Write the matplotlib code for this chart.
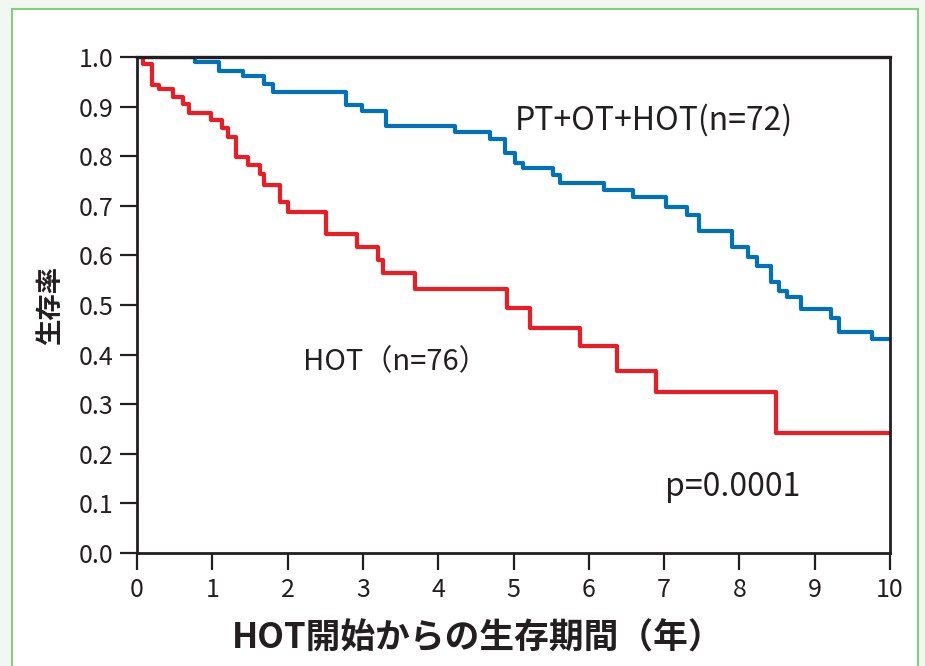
import matplotlib
matplotlib.use("Agg")
import matplotlib.pyplot as plt
from matplotlib.patches import Rectangle

plt.rcParams["font.family"] = ["Noto Sans CJK JP", "DejaVu Sans"]

# Kaplan-Meier step points (years, survival after the drop)
hot_t = [0, 0.08, 0.20, 0.29, 0.48, 0.61, 0.69, 0.98, 1.13, 1.21, 1.31, 1.48,
         1.63, 1.68, 1.90, 2.01, 2.51, 2.92, 3.20, 3.27, 3.69, 4.91, 5.22,
         5.88, 6.37, 6.89, 8.49, 10.0]
hot_s = [1.0, 0.986, 0.944, 0.935, 0.919, 0.905, 0.887, 0.873, 0.857, 0.839,
         0.798, 0.782, 0.764, 0.742, 0.708, 0.688, 0.643, 0.617, 0.591, 0.565,
         0.532, 0.494, 0.454, 0.417, 0.367, 0.325, 0.242, 0.242]

combo_t = [0, 0.77, 1.09, 1.41, 1.69, 1.81, 2.78, 2.99, 3.31, 4.22, 4.69, 4.89,
           5.02, 5.12, 5.52, 5.62, 6.20, 6.59, 7.03, 7.30, 7.46, 7.90, 8.11,
           8.23, 8.42, 8.53, 8.63, 8.82, 9.22, 9.32, 9.76, 10.0]
combo_s = [1.0, 0.99, 0.972, 0.962, 0.945, 0.929, 0.903, 0.891, 0.861, 0.849,
           0.835, 0.806, 0.786, 0.776, 0.762, 0.746, 0.732, 0.718, 0.698, 0.681,
           0.649, 0.617, 0.597, 0.579, 0.546, 0.528, 0.516, 0.492, 0.474, 0.446,
           0.431, 0.431]

x_ticks = list(range(0, 11))
y_ticks = [i / 10 for i in range(0, 11)]

ink = "#231f20"
red = "#ed1c24"
blue = "#0072bc"

fig = plt.figure(figsize=(9.25, 6.66), dpi=100, facecolor="#f3f7f1")
# white panel with green frame, kept behind the axes
fig.patches.append(Rectangle((12 / 925, -0.05), (918 - 12) / 925, 1.05 - 9 / 666,
                             transform=fig.transFigure, facecolor="white",
                             edgecolor="#82d07c", linewidth=1.5, zorder=-10))

ax = fig.add_axes([137 / 925, 1 - 553 / 666, (890 - 137) / 925, (553 - 57) / 666])
ax.set_zorder(5)
ax.set_facecolor("none")

# curves sit under the frame so the 1.0 plateau hides behind the top spine
ax.step(hot_t, hot_s, where="post", color=red, linewidth=3.0, zorder=2)
ax.step(combo_t, combo_s, where="post", color=blue, linewidth=3.0, zorder=2)

ax.set_xlim(0, 10)
ax.set_ylim(0, 1.0)
ax.set_xticks(x_ticks)
ax.set_yticks(y_ticks)
ax.set_xticklabels([str(v) for v in x_ticks])
ax.set_yticklabels([f"{v:.1f}" for v in y_ticks])

for side in ax.spines.values():
    side.set_color(ink)
    side.set_linewidth(2)
    side.set_zorder(4)
ax.spines["top"].set_linewidth(2.4)
ax.tick_params(axis="both", direction="out", length=12, width=1.6,
               color=ink, labelcolor=ink, labelsize=18, pad=5)

ax.text(5.02, 0.873, "PT+OT+HOT(n=72)", fontsize=23, color=ink,
        ha="left", va="center")
ax.text(2.2, 0.385, "HOT（n=76）", fontsize=21, color=ink,
        ha="left", va="center")
ax.text(7.01, 0.133, "p=0.0001", fontsize=23, color=ink,
        ha="left", va="center")

ax.set_xlabel("HOT開始からの生存期間（年）", fontsize=25, fontweight="bold",
              color=ink, va="center")
ax.xaxis.set_label_coords(0.452, -0.171)
ax.set_ylabel("生存率", fontsize=19, fontweight="bold", color=ink, labelpad=10)

fig.savefig("out.png", dpi=100, facecolor=fig.get_facecolor())
